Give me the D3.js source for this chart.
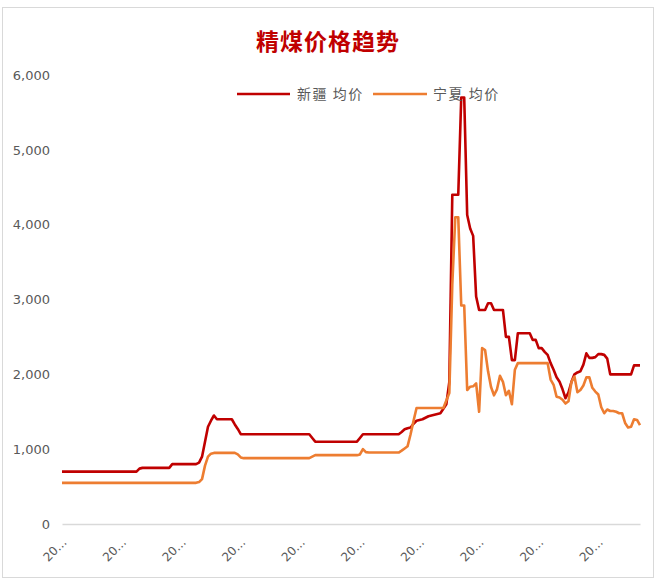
<!DOCTYPE html>
<html>
<head>
<meta charset="utf-8">
<script src="https://cdn.jsdelivr.net/npm/d3@7"></script>
<style>
  html, body { margin: 0; padding: 0; background: #fff; }
  svg { display: block; font-family: "Noto Sans CJK SC", "Noto Sans", sans-serif; }
</style>
</head>
<body>
<svg id="chart" width="667" height="579"></svg>
<script>
// Weekly refined-coal average prices (元/吨)
const seriesNames = ["新疆 均价", "宁夏 均价"];
const seriesColors = ["#C00000", "#ED7D31"];

const xinjiang = [
  700, 700, 700, 700, 700, 700, 700, 700, 700, 700,
  700, 700, 700, 700, 700, 700, 700, 700, 700, 700,
  700, 700, 700, 700, 700, 700, 740, 750, 750, 750,
  750, 750, 750, 750, 750, 750, 750, 800, 800, 800,
  800, 800, 800, 800, 800, 800, 820, 900, 1100, 1300,
  1380, 1450, 1400, 1400, 1400, 1400, 1400, 1400, 1330, 1270,
  1200, 1200, 1200, 1200, 1200, 1200, 1200, 1200, 1200, 1200,
  1200, 1200, 1200, 1200, 1200, 1200, 1200, 1200, 1200, 1200,
  1200, 1200, 1200, 1200, 1150, 1100, 1100, 1100, 1100, 1100,
  1100, 1100, 1100, 1100, 1100, 1100, 1100, 1100, 1100, 1100,
  1150, 1200, 1200, 1200, 1200, 1200, 1200, 1200, 1200, 1200,
  1200, 1200, 1200, 1200, 1230, 1265, 1280, 1290, 1340, 1380,
  1390, 1400, 1420, 1440, 1450, 1460, 1470, 1480, 1540, 1600,
  1900, 4400, 4400, 4400, 5700, 5700, 4130, 3950, 3850, 3040,
  2860, 2860, 2860, 2950, 2950, 2860, 2860, 2860, 2860, 2500,
  2500, 2190, 2190, 2550, 2550, 2550, 2550, 2550, 2460, 2460,
  2350, 2350, 2300, 2260, 2150, 2060, 1960, 1900, 1800, 1680,
  1760, 1900, 2000, 2025, 2040, 2130, 2280, 2220, 2220, 2230,
  2270, 2270, 2260, 2210, 2000, 2000, 2000, 2000, 2000, 2000,
  2000, 2000, 2120, 2120, 2120
];

const ningxia = [
  550, 550, 550, 550, 550, 550, 550, 550, 550, 550,
  550, 550, 550, 550, 550, 550, 550, 550, 550, 550,
  550, 550, 550, 550, 550, 550, 550, 550, 550, 550,
  550, 550, 550, 550, 550, 550, 550, 550, 550, 550,
  550, 550, 550, 550, 550, 550, 560, 600, 780, 900,
  940, 950, 950, 950, 950, 950, 950, 950, 950, 930,
  890, 880, 880, 880, 880, 880, 880, 880, 880, 880,
  880, 880, 880, 880, 880, 880, 880, 880, 880, 880,
  880, 880, 880, 880, 900, 920, 920, 920, 920, 920,
  920, 920, 920, 920, 920, 920, 920, 920, 920, 920,
  930, 1000, 960, 955, 955, 955, 955, 955, 955, 955,
  955, 955, 955, 955, 980, 1010, 1040, 1200, 1380, 1550,
  1550, 1550, 1550, 1550, 1550, 1550, 1550, 1550, 1550, 1650,
  1750, 3200, 4100, 4100, 2920, 2920, 1790, 1835, 1840, 1880,
  1500, 2350, 2325, 2040, 1830, 1720, 1800, 1980, 1900, 1720,
  1780, 1600, 2060, 2150, 2150, 2150, 2150, 2150, 2150, 2150,
  2150, 2150, 2150, 2150, 1930, 1860, 1700, 1690, 1660, 1610,
  1640, 1900, 1970, 1760, 1790, 1850, 1960, 1960, 1820, 1770,
  1730, 1560, 1480, 1530, 1510, 1510, 1500, 1480, 1480, 1350,
  1290, 1300, 1400, 1390, 1320
];

// One category per week
const firstWeek = new Date(Date.UTC(2020, 0, 3));
const fmtDate = d3.utcFormat("%Y-%m-%d");
const categories = xinjiang.map((_, i) => fmtDate(d3.utcDay.offset(firstWeek, i * 7)));

const yTicks = [0, 1000, 2000, 3000, 4000, 5000, 6000];
const labelEvery = 20;
const xTicks = categories.filter((_, i) => i % labelEvery === 0);

const svg = d3.select("#chart");

// chart frame
svg.append("rect")
  .attr("x", 2.5).attr("y", 7.5)
  .attr("width", 651).attr("height", 570)
  .attr("fill", "#fff")
  .attr("stroke", "#d9d9d9").attr("stroke-width", 1);

const x = d3.scalePoint().domain(categories).range([62, 640]);
const y = d3.scaleLinear().domain([0, 6000]).range([524, 75]);

// title
svg.append("text")
  .attr("x", 328).attr("y", 50)
  .attr("text-anchor", "middle")
  .attr("font-size", 23).attr("font-weight", "bold")
  .attr("fill", "#C00000")
  .attr("letter-spacing", 1)
  .text("精煤价格趋势");

// y axis
const yAxis = svg.append("g")
  .attr("transform", "translate(62,0)")
  .call(d3.axisLeft(y).tickValues(yTicks).tickSize(0).tickPadding(12).tickFormat(d3.format(",")));
yAxis.select(".domain").remove();
yAxis.selectAll("text")
  .attr("fill", "#595959").attr("font-size", 13)
  .attr("font-family", "'DejaVu Sans', sans-serif");

// x axis
const xAxis = svg.append("g")
  .attr("transform", "translate(0,524)")
  .call(d3.axisBottom(x).tickValues(xTicks).tickSize(0).tickFormat(d => d.slice(0, 2) + "…"));
xAxis.select(".domain").attr("stroke", "#d9d9d9").attr("stroke-width", 1.5);
xAxis.selectAll("text")
  .attr("fill", "#595959").attr("font-size", 12)
  .attr("font-family", "'DejaVu Sans', sans-serif")
  .attr("text-anchor", "end")
  .attr("transform", "translate(2,16) rotate(-45)")
  .attr("dy", "0.35em").attr("y", 0);

// lines
const line = d3.line()
  .x((d, i) => x(categories[i]))
  .y(d => y(d));

[xinjiang, ningxia].forEach((vals, k) => {
  svg.append("path")
    .datum(vals)
    .attr("fill", "none")
    .attr("stroke", seriesColors[k])
    .attr("stroke-width", 2.6)
    .attr("stroke-linejoin", "round")
    .attr("d", line);
});

// legend
const legendItems = [
  { x1: 237, x2: 290, tx: 297 },
  { x1: 373, x2: 427, tx: 433 }
];
legendItems.forEach((it, k) => {
  svg.append("line")
    .attr("x1", it.x1).attr("x2", it.x2)
    .attr("y1", 94).attr("y2", 94)
    .attr("stroke", seriesColors[k]).attr("stroke-width", 2.6);
  svg.append("text")
    .attr("x", it.tx).attr("y", 94).attr("dy", "0.35em")
    .attr("font-size", 14).attr("fill", "#595959")
    .attr("letter-spacing", 1.5)
    .text(seriesNames[k]);
});
</script>
</body>
</html>
